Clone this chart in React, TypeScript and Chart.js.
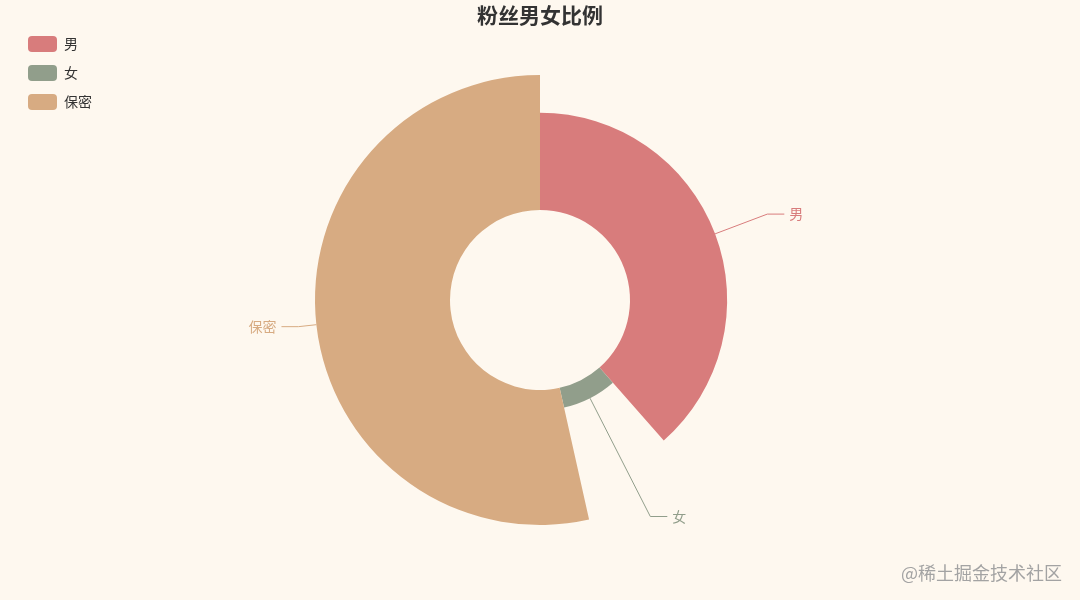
import React, { useEffect, useRef } from "react";
import { Chart, registerables } from "chart.js";

Chart.register(...registerables);

const labels = ["男", "女", "保密"];
const values = [385, 80, 535];
const colors = ["#d87c7c", "#919e8b", "#d7ab82"];
const titleText = "粉丝男女比例";
const FONT = '"Noto Sans CJK SC", "Noto Sans", sans-serif';

// rose type: each slice's outer radius scales with its value
const roseRadius = {
    id: "roseRadius",
    afterDatasetUpdate(chart: any, args: any) {
        const meta = args.meta;
        const data = chart.data.datasets[args.index].data as number[];
        const max = Math.max(...data);
        const outer = meta.controller.outerRadius;
        meta.data.forEach((arc: any, i: number) => {
            const inner = arc.innerRadius;
            arc.outerRadius = inner + (outer - inner) * data[i] / max;
        });
    },
};

const decorations = {
    id: "decorations",
    afterDatasetsDraw(chart: any) {
        const ctx = chart.ctx;
        const meta = chart.getDatasetMeta(0);
        const R = meta.controller.outerRadius;
        ctx.save();
        // slice labels with leader lines
        meta.data.forEach((arc: any, i: number) => {
            const a = (arc.startAngle + arc.endAngle) / 2;
            const c = Math.cos(a), s = Math.sin(a);
            const x0 = arc.x + arc.outerRadius * c;
            const y0 = arc.y + arc.outerRadius * s;
            const x1 = arc.x + (R + 18) * c;
            const y1 = arc.y + (R + 18) * s;
            const dir = c >= 0 ? 1 : -1;
            const x2 = x1 + dir * 17;
            ctx.strokeStyle = colors[i];
            ctx.lineWidth = 1;
            ctx.beginPath();
            ctx.moveTo(x0, y0);
            ctx.lineTo(x1, y1);
            ctx.lineTo(x2, y1);
            ctx.stroke();
            ctx.fillStyle = colors[i];
            ctx.font = "14px " + FONT;
            ctx.textBaseline = "middle";
            ctx.textAlign = dir > 0 ? "left" : "right";
            ctx.fillText(chart.data.labels[i], x2 + dir * 5, y1);
        });
        // legend
        chart.data.labels.forEach((lab: string, i: number) => {
            const y = 36 + i * 29;
            ctx.fillStyle = colors[i];
            ctx.beginPath();
            ctx.roundRect(28, y, 29, 16, 4);
            ctx.fill();
            ctx.fillStyle = "#333";
            ctx.font = "14px " + FONT;
            ctx.textAlign = "left";
            ctx.textBaseline = "middle";
            ctx.fillText(lab, 64, y + 8);
        });
        // title
        ctx.fillStyle = "#333";
        ctx.font = "bold 21px " + FONT;
        ctx.textAlign = "center";
        ctx.textBaseline = "middle";
        ctx.fillText(titleText, 540, 15);
        ctx.restore();
    },
};

const App: React.FC = () => {
    const chartRef = useRef<HTMLCanvasElement>(null);
    const chartInstanceRef = useRef<Chart | null>(null);

    useEffect(() => {
        document.body.style.margin = "0";
        if (chartRef.current) {
            if (chartInstanceRef.current) {
                chartInstanceRef.current.destroy();
            }
            chartInstanceRef.current = new Chart(chartRef.current, {
                type: "doughnut",
                data: {
                    labels: labels,
                    datasets: [
                        {
                            data: values,
                            backgroundColor: colors,
                            borderWidth: 0,
                        },
                    ],
                },
                options: {
                    animation: false,
                    responsive: true,
                    maintainAspectRatio: false,
                    events: [],
                    cutout: "40%",
                    layout: { padding: { top: 75, bottom: 75, left: 0, right: 0 } },
                    plugins: {
                        legend: { display: false },
                        tooltip: { enabled: false },
                    },
                },
                plugins: [roseRadius, decorations],
            });
        }
        return () => {
            if (chartInstanceRef.current) {
                chartInstanceRef.current.destroy();
                chartInstanceRef.current = null;
            }
        };
    }, []);

    return (
        <div style={{ position: "fixed", left: 0, top: 0, width: 1080, height: 600, background: "#fef8ef" }}>
            <canvas ref={chartRef} />
            <div
                style={{
                    position: "absolute",
                    left: 901,
                    top: 560,
                    fontFamily: FONT,
                    fontSize: 18,
                    color: "#a3a3a3",
                    lineHeight: "24px",
                }}
            >
                @稀土掘金技术社区
            </div>
        </div>
    );
};

export default App;
